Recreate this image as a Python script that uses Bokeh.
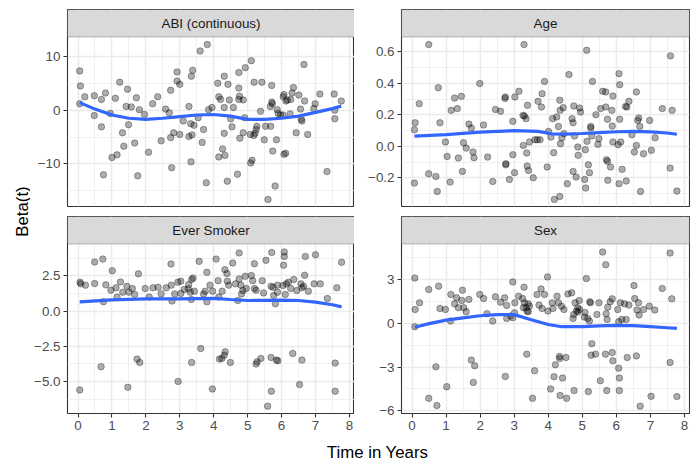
import numpy as np
from bokeh.plotting import figure
from bokeh.layouts import row, column
from bokeh.models import FixedTicker, BoxAnnotation, Label, Range1d
from bokeh.embed import file_html
from bokeh.resources import INLINE
from bokeh.core.properties import value

# ---------------- data ----------------
abi_x = [0.05, 0.07, 0.05, 0.2, 0.48, 0.48, 0.69, 0.69, 0.81, 0.75, 0.95, 1.0, 1.1, 1.15, 1.23, 1.31, 1.35,
         1.42, 1.46, 1.49, 1.57, 1.67, 1.72, 1.76, 1.81, 1.96, 2.08, 2.2, 2.35, 2.45, 2.58, 2.69, 2.73, 2.73,
         2.76, 2.82, 2.92, 2.92, 3.0, 3.0, 3.1, 3.27, 3.27, 3.32, 3.34, 3.38, 3.33, 3.36, 3.42, 3.54, 3.6,
         3.66, 3.7, 3.78, 3.81, 3.85, 3.95, 4.12, 4.15, 4.15, 4.2, 4.26, 4.31, 4.31, 4.31, 4.33, 4.4, 4.42,
         4.46, 4.5, 4.54, 4.58, 4.7, 4.74, 4.74, 4.74, 4.76, 4.77, 4.87, 4.87, 4.93, 4.91, 5.08, 5.09, 5.11,
         5.13, 5.19, 5.22, 5.25, 5.27, 5.18, 5.42, 5.38, 5.49, 5.53, 5.68, 5.71, 5.67, 5.71, 5.74, 5.73, 5.81,
         5.85, 5.87, 5.9, 5.6, 5.97, 6.05, 6.07, 6.07, 6.12, 6.04, 6.13, 6.17, 6.25, 6.27, 6.31, 6.35, 6.43,
         6.51, 6.58, 6.56, 6.6, 6.66, 6.68, 6.77, 6.95, 6.99, 7.13, 7.34, 7.55, 7.57, 7.57, 7.76]
abi_y = [7.3, 4.5, 1.2, 2.5, 2.7, -1.0, 2.0, -3.1, 3.2, -12.0, -0.6, -8.8, 2.2, -8.3, 5.2, -4.2, -6.7,
         0.7, 3.9, -2.7, 0.6, -6.1, 2.3, -12.2, 0.1, -0.8, -7.8, 1.2, 2.5, -5.7, 0.2, -0.5, 3.7, -5.1,
         -10.7, -4.2, 7.1, 5.4, 4.8, -4.5, -2.0, 0.7, -4.9, -2.5, 6.3, 7.4, -9.6, -4.6, -2.8, -1.4, 11.0,
         -6.0, -3.6, -13.5, 12.2, 0.1, 0.5, 5.0, 2.5, -8.7, 2.0, -7.2, 6.3, 0.5, -4.3, -8.4, -13.2, 4.8,
         1.9, -1.6, -3.1, 0.5, -11.9, 2.0, 4.1, 7.0, 2.6, -5.2, 1.9, -4.2, 7.9, -1.4, -4.5, -9.8, 9.2,
         -9.3, 5.2, -4.3, -3.6, -3.0, -4.7, 5.2, -0.2, -5.5, -3.0, -3.0, 4.6, 0.7, 1.5, -7.6, 1.2, -14.1,
         -5.5, 0.1, -0.6, -16.6, -0.9, 2.5, 2.9, -8.2, -8.0, -0.9, 1.7, 1.9, -0.7, 2.0, 3.2, 4.2, -4.2,
         2.8, -1.7, 0.2, -2.0, 8.5, 1.7, -4.5, 0.3, 1.2, 3.0, -11.4, 3.0, 0.0, -1.6, 1.7]
abi_sx = [0.05, 0.5, 1.0, 1.5, 2.0, 2.5, 3.0, 3.5, 4.0, 4.5, 5.0, 5.5, 6.0, 6.5, 7.0, 7.5, 7.76]
abi_sy = [1.4, 0.2, -0.9, -1.5, -1.7, -1.5, -1.2, -0.9, -0.8, -1.1, -1.7, -1.7, -1.5, -1.1, -0.4, 0.3, 0.75]

age_x = [0.09, 0.07, 0.07, 0.21, 0.49, 0.49, 0.7, 0.74, 0.77, 0.82, 0.98, 1.03, 1.12, 1.15, 1.25, 1.33,
         1.36, 1.45, 1.48, 1.51, 1.59, 1.67, 1.74, 1.79, 1.82, 1.99, 2.1, 2.22, 2.37, 2.45, 2.6, 2.74, 2.73,
         2.76, 2.75, 2.86, 2.96, 2.96, 3.02, 3.01, 3.14, 3.26, 3.29, 3.27, 3.3, 3.35, 3.37, 3.39, 3.38, 3.42,
         3.45, 3.56, 3.61, 3.68, 3.7, 3.76, 3.8, 3.82, 3.89, 3.97, 4.01, 4.08, 4.13, 4.16, 4.18, 4.25, 4.3,
         4.34, 4.35, 4.34, 4.36, 4.4, 4.44, 4.46, 4.56, 4.61, 4.7, 4.73, 4.75, 4.77, 4.73, 4.82, 4.87, 4.88,
         4.92, 4.95, 5.07, 5.09, 5.1, 5.13, 5.14, 5.18, 5.21, 5.25, 5.25, 5.28, 5.3, 5.4, 5.46, 5.49, 5.54,
         5.6, 5.69, 5.69, 5.71, 5.74, 5.74, 5.75, 5.83, 5.87, 5.88, 5.9, 5.9, 6.05, 6.08, 6.1, 6.1, 6.08,
         6.13, 6.17, 6.27, 6.29, 6.31, 6.37, 6.46, 6.53, 6.59, 6.59, 6.63, 6.66, 6.69, 6.71, 6.8, 6.98, 7.03,
         7.14, 7.35, 7.58, 7.59, 7.64, 7.78]
age_y = [0.15, 0.106, -0.233, 0.271, 0.647, -0.174, -0.191, -0.286, 0.373, 0.15, 0.028, -0.064, -0.227,
         0.229, 0.307, 0.24, -0.074, 0.318, -0.159, 0.023, -0.011, 0.142, 0.117, -0.036, -0.072, 0.399,
         0.136, -0.068, -0.223, 0.235, 0.223, 0.314, 0.305, -0.11, -0.117, -0.21, 0.159, -0.053, 0.314,
         -0.167, 0.35, 0.197, 0.647, 0.006, 0.193, 0.176, -0.042, 0.261, -0.125, -0.153, 0.028, -0.2, 0.042,
         0.042, 0.286, 0.042, 0.25, 0.335, 0.413, -0.131, 0.095, 0.059, 0.176, -0.04, -0.337, 0.187, 0.127,
         0.293, 0.229, -0.318, 0.017, 0.053, 0.246, 0.081, -0.237, 0.456, 0.176, -0.159, 0.257, 0.066, 0.15,
         -0.195, -0.004, -0.057, 0.244, 0.218, -0.21, -0.021, -0.265, 0.611, 0.032, -0.117, -0.167, 0.127,
         0.117, 0.066, 0.413, 0.201, 0.013, 0.049, 0.24, 0.35, 0.346, 0.25, -0.085, -0.095, 0.172, -0.216,
         -0.131, 0.229, 0.129, 0.32, 0.028, 0.011, 0.462, 0.392, 0.172, -0.237, 0.028, -0.146, 0.254,
         -0.22, 0.25, 0.286, 0.074, -0.036, 0.346, 0.006, 0.165, 0.18, 0.127, -0.286, -0.047, 0.165,
         -0.025, 0.055, 0.24, -0.138, 0.575, 0.229, -0.284]
age_sx = [0.07, 1.0, 2.0, 3.0, 3.7, 4.1, 4.5, 5.0, 5.5, 6.0, 6.5, 7.0, 7.5, 7.78]
age_sy = [0.065, 0.075, 0.09, 0.1, 0.095, 0.08, 0.078, 0.082, 0.088, 0.093, 0.095, 0.092, 0.085, 0.077]

smk_x = [0.06, 0.08, 0.05, 0.22, 0.49, 0.49, 0.73, 0.68, 0.75, 0.82, 1.01, 0.97, 1.12, 1.15, 1.25, 1.32,
         1.44, 1.5, 1.6, 1.47, 1.67, 1.74, 1.82, 1.78, 1.98, 2.1, 2.21, 2.36, 2.45, 2.6, 2.74, 2.75, 2.77,
         2.85, 2.94, 2.95, 3.03, 3.03, 3.13, 3.25, 3.26, 3.31, 3.35, 3.39, 3.34, 3.35, 3.43, 3.57, 3.62, 3.7,
         3.75, 3.8, 3.8, 3.89, 3.97, 3.96, 4.07, 4.13, 4.15, 4.17, 4.25, 4.24, 4.31, 4.33, 4.34, 4.39, 4.4,
         4.44, 4.49, 4.56, 4.64, 4.71, 4.75, 4.75, 4.8, 4.82, 4.86, 4.93, 4.96, 5.11, 5.15, 5.2, 5.2, 5.25,
         5.25, 5.28, 5.39, 5.43, 5.47, 5.54, 5.59, 5.69, 5.69, 5.7, 5.71, 5.75, 5.77, 5.82, 5.85, 5.89, 5.88,
         5.88, 6.04, 6.08, 6.08, 6.06, 6.11, 6.14, 6.2, 6.27, 6.33, 6.36, 6.45, 6.53, 6.57, 6.6, 6.6, 6.65,
         6.68, 6.7, 6.79, 6.96, 7.0, 7.14, 7.35, 7.58, 7.58, 7.63, 7.77]
smk_y = [2.05, 1.93, -5.6, 1.84, 3.48, 1.95, 3.69, -3.95, 0.66, 1.86, 2.87, 1.48, 1.65, 0.99, 2.07, 1.34,
         1.76, 1.34, 1.6, -5.41, 1.18, -3.41, -3.65, 2.64, 1.6, 0.99, 1.65, 1.69, 1.22, 1.65, 3.34, 1.84,
         0.71, 1.22, 2.05, -4.99, 2.12, 1.25, 1.53, 1.58, 1.88, 1.34, 2.24, 2.35, 0.82, -3.65, 1.41, 3.53,
         -2.66, 1.22, 1.41, 2.75, 0.66, 1.84, 1.41, -5.53, 3.69, 2.16, 0.99, -3.41, 1.41, -3.36, -3.13, 2.94,
         -2.89, 2.66, 2.12, 1.84, -3.65, 3.41, 1.93, 0.75, 4.12, 2.28, 1.84, 1.22, 1.46, 2.47, 1.6, 2.52,
         2.16, 3.36, 1.6, 1.48, -3.76, -3.6, -3.36, 2.16, 1.29, 3.6, -6.75, -3.29, 1.76, -5.69, 4.16, 1.69,
         1.1, 0.52, -3.48, -3.53, 1.84, 1.34, 1.81, 4.19, 3.88, 3.25, 1.18, 1.93, 2.05, 1.6, -3.01, 2.24,
         1.46, -5.22, 1.93, 1.65, -3.48, 1.76, 2.54, 3.88, 1.41, 1.93, 4.0, 1.93, 0.89, -3.69, -5.69, 1.65,
         3.46]
smk_sx = [0.05, 1.0, 2.0, 3.0, 4.0, 4.5, 5.0, 5.5, 6.0, 6.5, 7.0, 7.5, 7.77]
smk_sy = [0.65, 0.8, 0.86, 0.87, 0.9, 0.82, 0.75, 0.76, 0.78, 0.75, 0.63, 0.45, 0.3]

sex_x = [0.08, 0.09, 0.08, 0.22, 0.49, 0.49, 0.7, 0.73, 0.78, 0.82, 0.98, 1.02, 1.14, 1.13, 1.25, 1.31,
         1.36, 1.46, 1.48, 1.52, 1.59, 1.67, 1.74, 1.8, 1.84, 1.99, 2.1, 2.2, 2.37, 2.45, 2.6, 2.72, 2.74,
         2.78, 2.78, 2.89, 2.96, 2.96, 3.01, 3.02, 3.13, 3.25, 3.29, 3.3, 3.27, 3.35, 3.37, 3.38, 3.41, 3.45,
         3.41, 3.54, 3.6, 3.67, 3.73, 3.79, 3.82, 3.89, 3.98, 3.99, 4.07, 4.12, 4.14, 4.17, 4.21, 4.26, 4.3,
         4.34, 4.35, 4.33, 4.39, 4.42, 4.46, 4.52, 4.54, 4.58, 4.69, 4.73, 4.76, 4.75, 4.79, 4.83, 4.87, 4.91,
         4.87, 4.92, 5.06, 5.08, 5.12, 5.18, 5.16, 5.21, 5.22, 5.24, 5.28, 5.26, 5.39, 5.43, 5.49, 5.53, 5.6,
         5.68, 5.7, 5.69, 5.72, 5.73, 5.75, 5.82, 5.88, 5.88, 5.9, 6.04, 6.07, 6.09, 6.09, 6.07, 6.12, 6.16,
         6.24, 6.29, 6.32, 6.37, 6.52, 6.54, 6.59, 6.61, 6.65, 6.67, 6.7, 6.8, 6.97, 7.02, 7.13, 7.35, 7.58,
         7.58, 7.63, 7.78]
sex_y = [3.11, 0.95, -0.23, 1.41, 2.32, -5.14, -2.98, -5.64, 2.55, 1.02, 0.95, -4.34, 1.98, 0.16, 1.34,
         1.75, 1.07, 1.57, 2.27, 1.07, 0.8, 1.64, -2.52, -4.05, -2.91, 1.98, 1.7, 0.66, 0.16, 1.82, 1.45,
         1.75, -3.64, 0.34, 1.23, 0.5, 2.84, 0.39, 0.73, 1.41, 1.86, 1.7, 2.48, 1.41, 1.07, 1.07, -2.11,
         0.84, 1.34, 1.18, 0.8, -5.14, -3.25, 1.98, 1.25, 2.36, 1.02, 1.98, 3.18, 0.84, -4.5, 1.41, 1.02,
         -3.66, -2.84, 1.86, 1.41, -2.41, -4.95, -2.27, 1.18, -3.75, 0.95, -2.34, -5.14, 2.02, 2.09, 0.34,
         -4.61, 0.61, 1.41, 0.84, 1.07, 1.57, 0.77, 0.95, 0.43, 0.75, 3.07, -4.68, 0.34, 0.16, 1.48, 1.41,
         -1.39, -2.18, -2.11, 0.61, 1.41, -3.93, 4.89, -2.11, 0.66, 4.02, -4.61, 0.27, 1.11, 1.48, 1.68,
         -2.0, -2.57, 0.95, -3.07, -3.75, -4.61, 0.11, 1.41, 0.27, 1.34, 0.27, -2.34, 1.25, 2.59, 1.7,
         -2.23, 0.91, 1.41, 0.57, -5.68, 0.95, 1.18, -5.0, 0.91, 2.39, -2.68, 4.82, 1.68, -5.02]
sex_sx = [0.08, 0.5, 1.0, 1.5, 2.0, 2.5, 3.0, 3.5, 4.0, 4.4, 5.0, 5.5, 6.0, 6.5, 7.0, 7.5, 7.78]
sex_sy = [-0.27, -0.02, 0.22, 0.38, 0.52, 0.6, 0.6, 0.25, -0.08, -0.23, -0.22, -0.17, -0.14, -0.15, -0.22, -0.3, -0.35]

x_major = [0, 1, 2, 3, 4, 5, 6, 7, 8]
x_minor = [0.5, 1.5, 2.5, 3.5, 4.5, 5.5, 6.5, 7.5]

MINUS = "\u2212"

# ---------------- layout constants ----------------
XR = (-0.31, 8.15)
FRAME_H = 197
STRIP_PX = 27.5
FONT = "Liberation Sans"
GRID_C = "#EBEBEB"
DARK = "#333333"


def make_panel(title, px, py, sx, sy, yr, ymaj, ymin, ylab, left_border, frame_w, right_border,
               top_border, bottom_axis, bottom_border):
    panel_h = FRAME_H - STRIP_PX
    y0, y1 = yr
    strip_units = STRIP_PX * (y1 - y0) / panel_h
    p = figure(frame_width=frame_w, frame_height=FRAME_H,
               x_range=Range1d(*XR), y_range=Range1d(y0, y1 + strip_units),
               output_backend="svg", toolbar_location=None,
               min_border_left=left_border, min_border_right=right_border,
               min_border_top=top_border, min_border_bottom=bottom_border)
    p.background_fill_color = "white"
    p.border_fill_color = "white"
    p.outline_line_color = DARK
    p.outline_line_width = 1.1

    xt = FixedTicker(ticks=x_major, minor_ticks=x_minor)
    yt = FixedTicker(ticks=ymaj, minor_ticks=ymin)
    p.xaxis.ticker = xt
    p.yaxis.ticker = yt
    p.xgrid.ticker = xt
    p.ygrid.ticker = yt
    for g in (p.xgrid, p.ygrid):
        g.grid_line_color = GRID_C
        g.grid_line_width = 1.5
        g.minor_grid_line_color = GRID_C
        g.minor_grid_line_width = 0.75

    axes = [p.yaxis[0]]
    if bottom_axis:
        axes.append(p.xaxis[0])
    else:
        p.xaxis.visible = False
    for ax in axes:
        ax.axis_line_color = None
        ax.major_tick_line_color = DARK
        ax.major_tick_line_width = 1.1
        ax.major_tick_out = 4
        ax.major_tick_in = 0
        ax.minor_tick_line_color = None
        ax.major_label_text_color = "#4D4D4D"
        ax.major_label_text_font = FONT
        ax.major_label_text_font_size = "13.4px"
        ax.major_label_standoff = 3
    p.yaxis.major_label_overrides = dict(zip(ymaj, ylab))
    if bottom_axis:
        p.xaxis.major_label_overrides = {v: str(v) for v in x_major}

    p.scatter(px, py, size=6.5, fill_color="black", fill_alpha=0.32,
              line_color="black", line_alpha=0.32, line_width=1)
    p.line(sx, sy, line_color="#3366FF", line_width=3.2)

    p.add_layout(BoxAnnotation(bottom=y1, fill_color="#D9D9D9", fill_alpha=1.0,
                               line_color=DARK, line_width=1.1))
    p.add_layout(Label(x=(XR[0] + XR[1]) / 2, y=y1 + strip_units / 2, text=title,
                       text_align="center", text_baseline="middle",
                       text_font=FONT, text_font_size="13.4px", text_color="#1A1A1A"))
    return p


p_abi = make_panel("ABI (continuous)", abi_x, abi_y, abi_sx, abi_sy, (-17.9, 13.6),
                   [-10, 0, 10], [-15, -5, 5], [MINUS + "10", "0", "10"],
                   37, 287, 0, 9, False, 9)
p_age = make_panel("Age", age_x, age_y, age_sx, age_sy, (-0.382, 0.695),
                   [-0.2, 0.0, 0.2, 0.4, 0.6], [-0.3, -0.1, 0.1, 0.3, 0.5],
                   [MINUS + "0.2", "0.0", "0.2", "0.4", "0.6"],
                   47, 288, 1, 9, False, 9)
p_smk = make_panel("Ever Smoker", smk_x, smk_y, smk_sx, smk_sy, (-7.27, 4.76),
                   [-5.0, -2.5, 0.0, 2.5], [-6.25, -3.75, -1.25, 1.25, 3.75],
                   [MINUS + "5.0", MINUS + "2.5", "0.0", "2.5"],
                   37, 287, 0, 1, True, 24)
p_sex = make_panel("Sex", sex_x, sex_y, sex_sx, sex_sy, (-6.18, 5.44),
                   [-6, -3, 0, 3], [-4.5, -1.5, 1.5, 4.5],
                   [MINUS + "6", MINUS + "3", "0", "3"],
                   47, 288, 1, 1, True, 24)


def label_fig(w, h):
    f = figure(frame_width=w, frame_height=h, x_range=Range1d(0, w), y_range=Range1d(0, h),
               output_backend="svg", toolbar_location=None,
               min_border_left=0, min_border_right=0, min_border_top=0, min_border_bottom=0)
    f.axis.visible = False
    f.grid.visible = False
    f.outline_line_color = None
    f.background_fill_color = "white"
    f.border_fill_color = "white"
    return f


YLAB_W, TOTAL_H = 30, 465
ylab = label_fig(YLAB_W, TOTAL_H)
ylab.add_layout(Label(x=22, y=254, x_units="screen", y_units="screen", text="Beta(t)",
                      angle=np.pi / 2, text_align="center", text_baseline="alphabetic",
                      text_font=FONT, text_font_size="16.8px", text_color="black"))

XLAB_H = TOTAL_H - (9 + FRAME_H + 9) - (1 + FRAME_H + 24)
xlab = label_fig(660, XLAB_H)
xlab.text(x=[347], y=[XLAB_H - 15], text=["Time in Years"], text_align="center",
          text_baseline="alphabetic", text_font=value(FONT), text_font_size="16.8px",
          text_color="black")

layout = row(ylab, column(row(p_abi, p_age), row(p_smk, p_sex), xlab))

open("out.html", "w").write(file_html(layout, INLINE))
